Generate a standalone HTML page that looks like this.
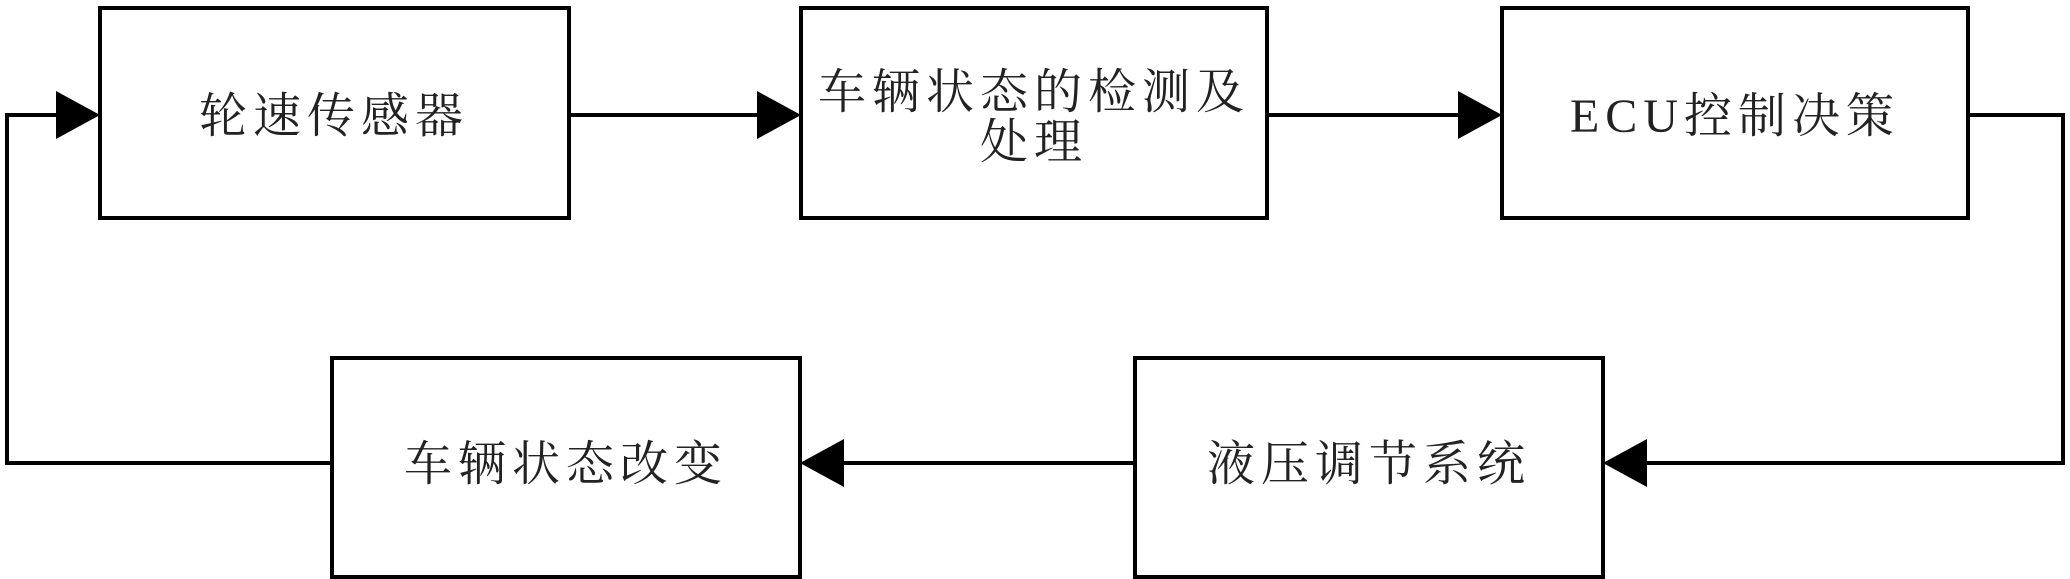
<!DOCTYPE html>
<html><head><meta charset="utf-8"><style>
html,body{margin:0;padding:0;background:#fff;}
svg{display:block}
text{font-family:"Liberation Serif","Noto Serif CJK SC",serif;font-size:48px;fill:#222;text-anchor:middle;letter-spacing:6px}
</style></head><body>
<svg width="2070" height="579" viewBox="0 0 2070 579" xmlns="http://www.w3.org/2000/svg">
<g fill="none" stroke="#000" stroke-width="4">
<rect x="100" y="8" width="469" height="210"/>
<rect x="801" y="8" width="466" height="210"/>
<rect x="1502" y="8" width="466" height="210"/>
<rect x="332" y="358" width="468" height="219"/>
<rect x="1135" y="358" width="468" height="219"/>
<polyline points="569,115 762,115"/>
<polyline points="1267,115 1463,115"/>
<polyline points="1968,115 2063,115 2063,463 1642,463"/>
<polyline points="1135,463 839,463"/>
<polyline points="332,463 7,463 7,115 61,115"/>
</g>
<g fill="#000">
<polygon points="801,115 757,91 757,139"/>
<polygon points="1502,115 1458,91 1458,139"/>
<polygon points="100,115 56,91 56,139"/>
<polygon points="1603,463 1647,439 1647,487"/>
<polygon points="800,463 844,439 844,487"/>
</g>
<text x="334" y="132">轮速传感器</text>
<text x="1034" y="108">车辆状态的检测及</text>
<text x="1034" y="158">处理</text>
<text x="1735" y="132">ECU控制决策</text>
<text x="566" y="480">车辆状态改变</text>
<text x="1369" y="480">液压调节系统</text>
</svg>
</body></html>
